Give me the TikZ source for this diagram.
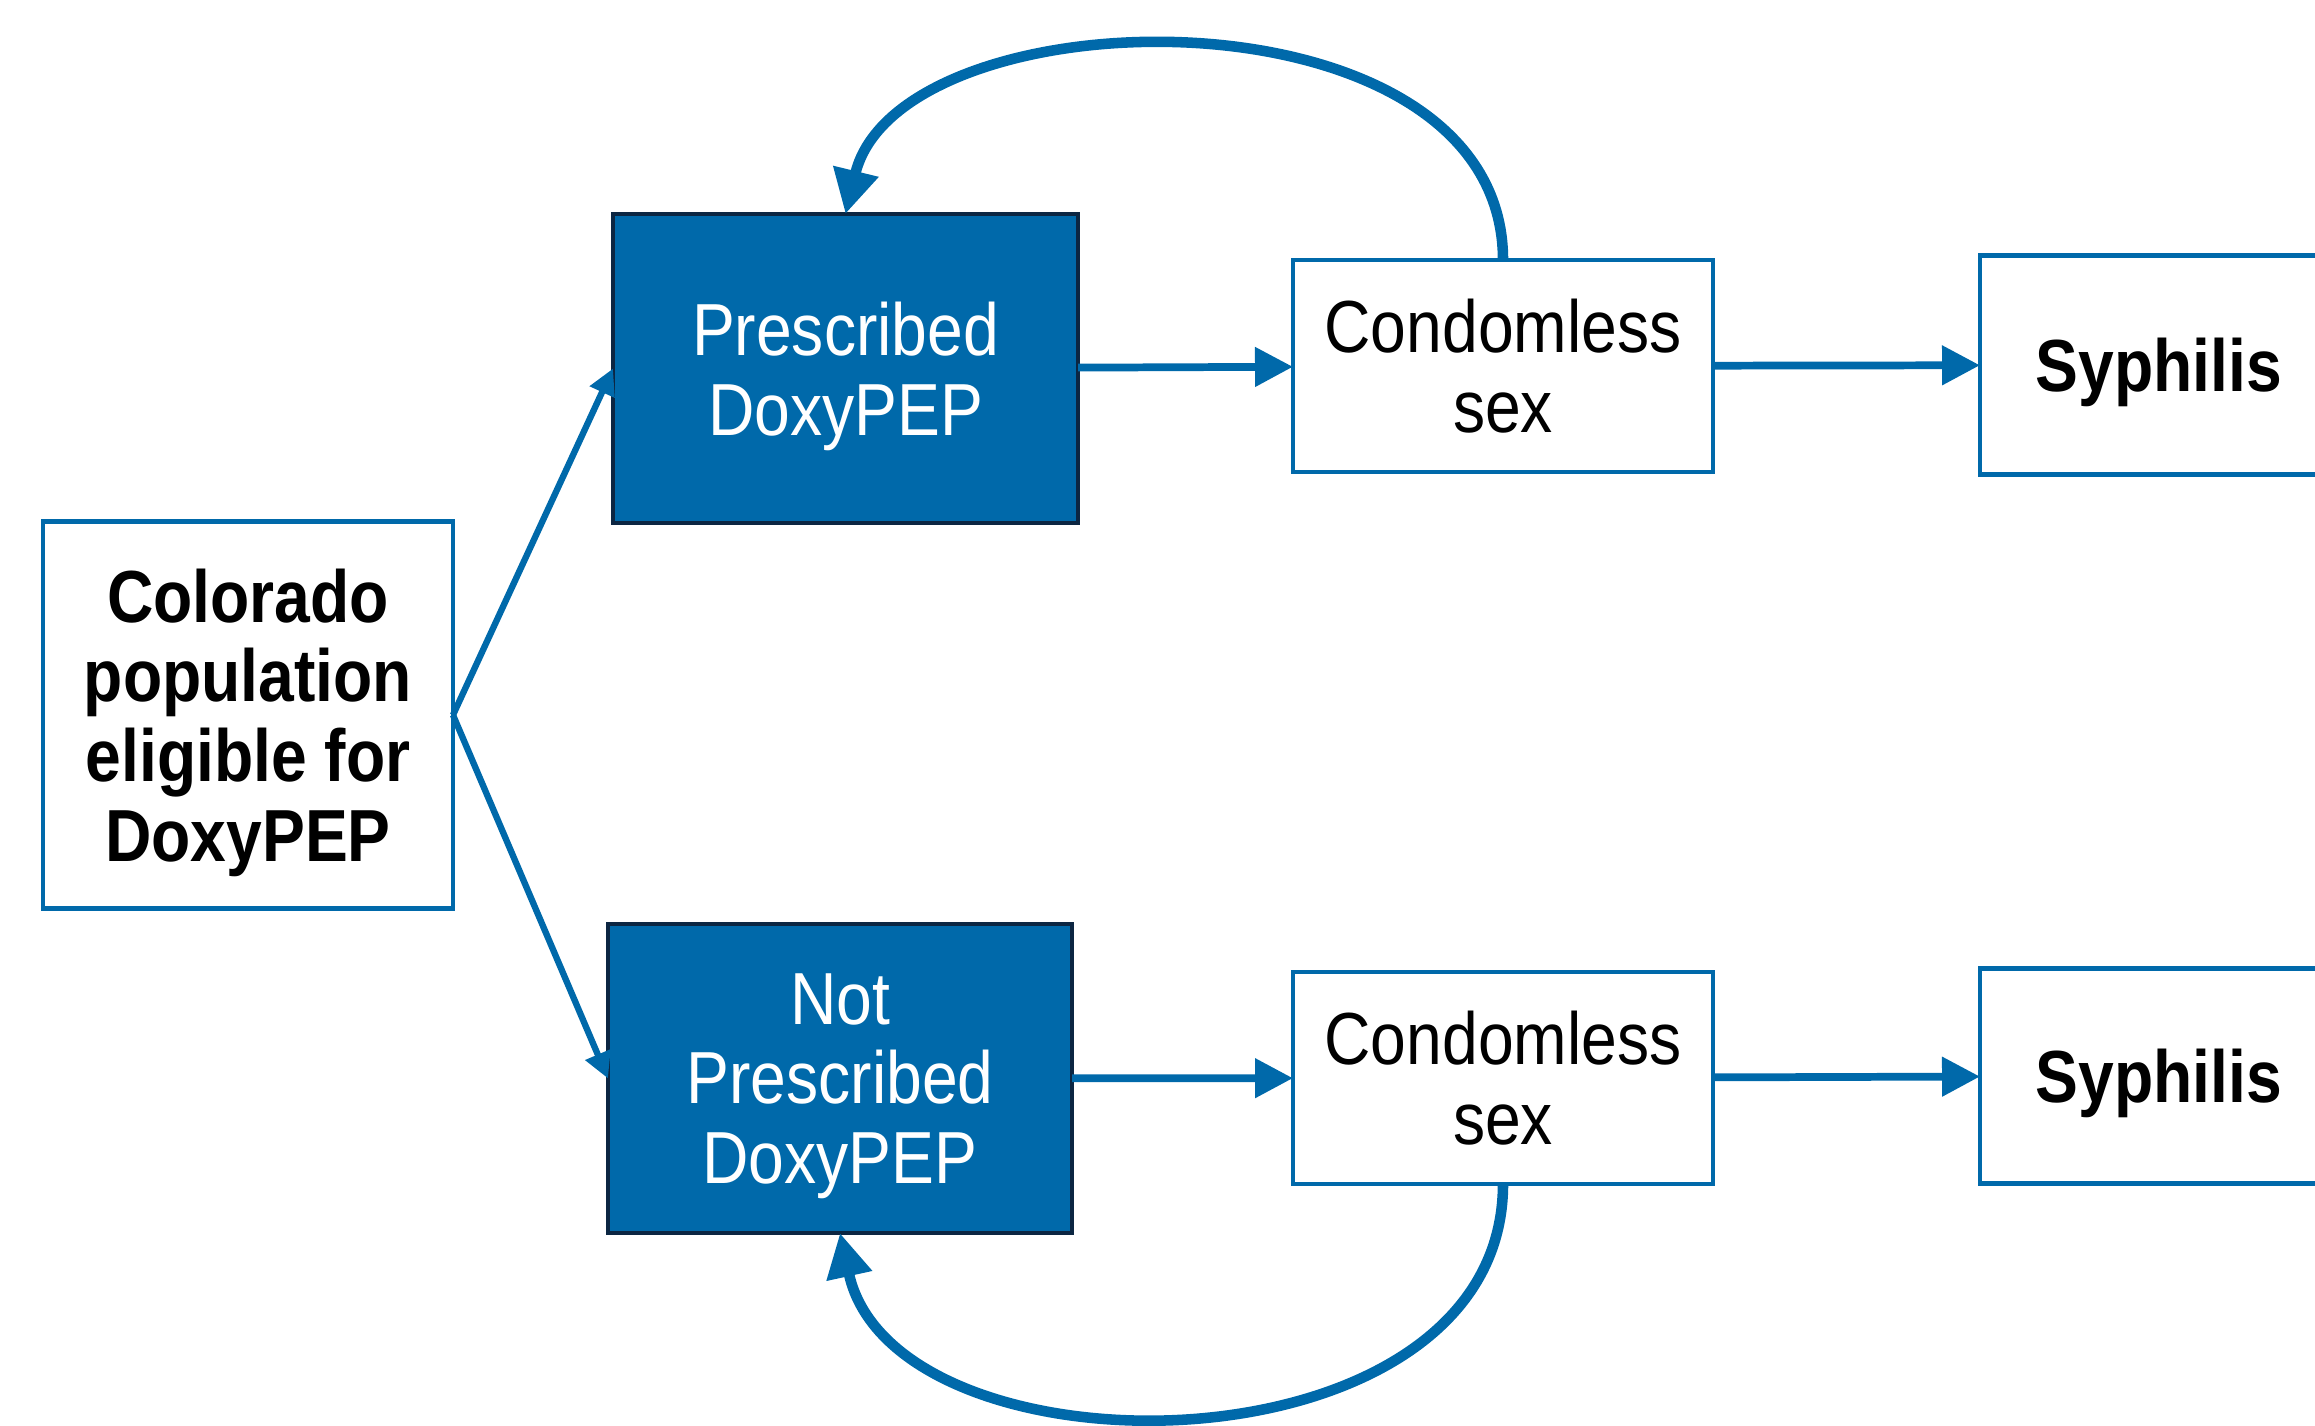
\documentclass[tikz,border=0pt]{standalone}
\usepackage{fontspec}
\setmainfont[FakeStretch=0.87]{Liberation Sans}
\usetikzlibrary{arrows.meta}
\definecolor{doxyblue}{RGB}{0,105,170}
\definecolor{doxynavy}{RGB}{12,38,66}
\begin{document}
\begin{tikzpicture}[
    every node/.style={align=center, inner sep=0pt, outer sep=0pt, text depth=0pt, font=\fontsize{21}{22.7}\selectfont},
    outlinebox/.style={draw=doxyblue, line width=1.2pt, fill=white},
    filledbox/.style={draw=doxynavy, line width=1.3pt, fill=doxyblue, text=white},
    flow/.style={-{Triangle[length=3.8mm,width=3.8mm]}, color=doxyblue, line width=2.2pt},
    split/.style={-{Triangle[length=2.6mm,width=2.6mm]}, color=doxyblue, line width=1.8pt},
    feedback/.style={-{Triangle[length=4.4mm,width=4.4mm]}, color=doxyblue, line width=3pt}
  ]
  \useasboundingbox (0,0) rectangle (23.15,14.25);
  \clip (0,0) rectangle (23.15,14.25);
  % boxes
  \node[outlinebox, minimum width=4.1cm, minimum height=3.87cm] (A) at (2.48,7.1) {\bfseries Colorado\\\bfseries population\\\bfseries eligible for\\\bfseries DoxyPEP};
  \node[filledbox, minimum width=4.65cm, minimum height=3.09cm] (B) at (8.455,10.565) {Prescribed\\DoxyPEP};
  \node[filledbox, minimum width=4.64cm, minimum height=3.09cm] (C) at (8.4,3.465) {Not\\Prescribed\\DoxyPEP};
  \node[outlinebox, minimum width=4.2cm, minimum height=2.12cm] (D) at (15.03,10.59) {Condomless\\sex};
  \node[outlinebox, minimum width=4.2cm, minimum height=2.12cm] (E) at (15.03,3.47) {Condomless\\sex};
  \node[outlinebox, minimum width=3.58cm, minimum height=2.19cm] (F) at (21.59,10.6) {\bfseries Syphilis};
  \node[outlinebox, minimum width=3.58cm, minimum height=2.15cm] (G) at (21.59,3.49) {\bfseries Syphilis};
  % arrows
  \path[split] (A.east) edge (B.west);
  \path[split] (A.east) edge (C.west);
  \path[flow] (B) edge (D);
  \path[flow] (D) edge (F);
  \path[flow] (C) edge (E);
  \path[flow] (E) edge (G);
  \draw[feedback] (D.north) .. controls (15.03,14.45) and (9.0,14.35) .. (B.north);
  \draw[feedback] (E.south) .. controls (15.03,-0.55) and (8.95,-0.6) .. (C.south);
\end{tikzpicture}
\end{document}
